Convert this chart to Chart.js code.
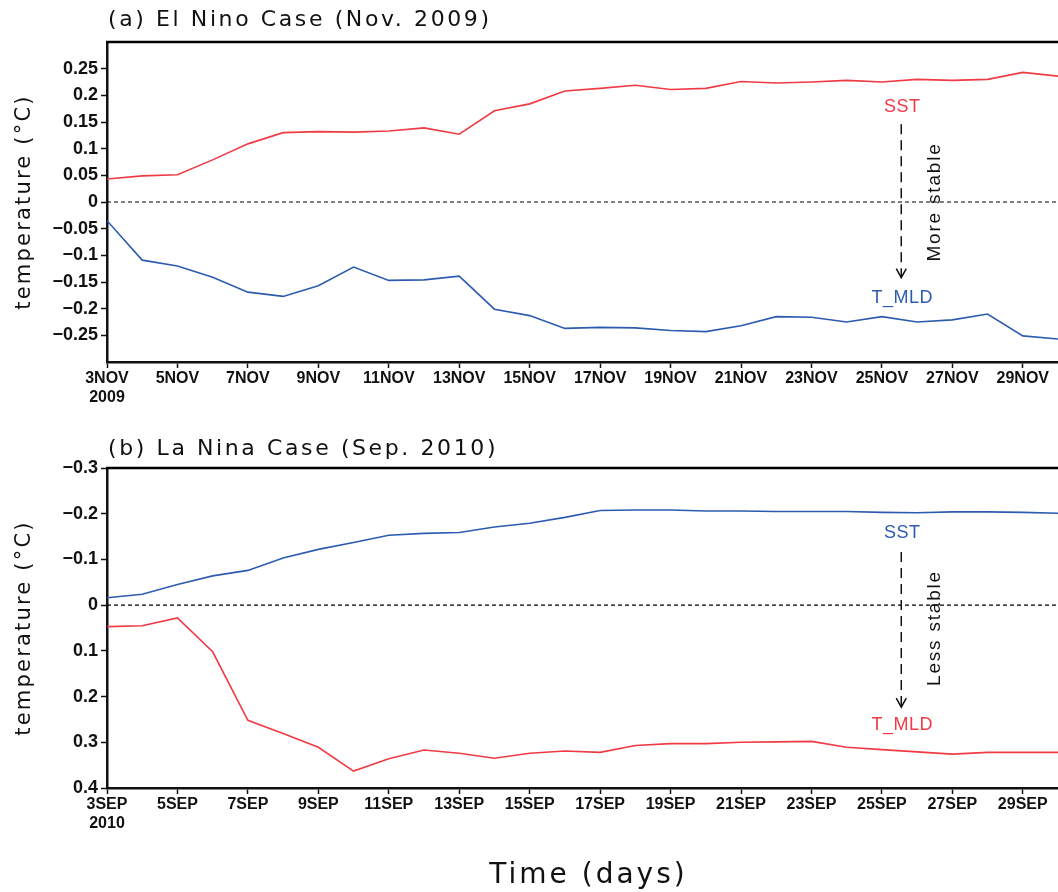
<!DOCTYPE html>
<html>
<head>
<meta charset="utf-8">
<script src="https://cdn.jsdelivr.net/npm/chart.js@4.4.1/dist/chart.umd.min.js"></script>
<style>
  html, body { margin: 0; padding: 0; background: #fff; overflow: hidden; }
  canvas { position: absolute; left: 0; }
  #top { top: 0; }
  #bottom { top: 410px; }
</style>
</head>
<body>
<canvas id="top" width="1058" height="410"></canvas>
<canvas id="bottom" width="1058" height="482"></canvas>
<script>
// days of the month, 3 .. 30
var days = [3, 4, 5, 6, 7, 8, 9, 10, 11, 12, 13, 14, 15, 16, 17, 18, 19, 20, 21, 22, 23, 24, 25, 26, 27, 28, 29, 30];
// labelled days
var tickDays = [3, 5, 7, 9, 11, 13, 15, 17, 19, 21, 23, 25, 27, 29];

// (a) El Nino, Nov. 2009
var ninoSST = [0.043, 0.049, 0.051, 0.079, 0.109, 0.130, 0.132, 0.131, 0.133, 0.139, 0.127, 0.171, 0.184,
    0.208, 0.213, 0.219, 0.211, 0.213, 0.226, 0.223, 0.225, 0.228, 0.225, 0.230, 0.228, 0.230, 0.243, 0.236];
var ninoMLD = [-0.035, -0.109, -0.120, -0.141, -0.169, -0.177, -0.157, -0.122, -0.147, -0.146, -0.139, -0.201, -0.213,
    -0.237, -0.235, -0.236, -0.241, -0.243, -0.232, -0.215, -0.216, -0.225, -0.215, -0.225, -0.221, -0.210, -0.251, -0.257];
var ninoTicks = [0.25, 0.2, 0.15, 0.1, 0.05, 0, -0.05, -0.1, -0.15, -0.2, -0.25];

// (b) La Nina, Sep. 2010
var ninaSST = [-0.016, -0.024, -0.045, -0.064, -0.076, -0.103, -0.122, -0.137, -0.153, -0.157, -0.159, -0.171, -0.179,
    -0.192, -0.207, -0.208, -0.208, -0.206, -0.206, -0.205, -0.205, -0.205, -0.203, -0.202, -0.204, -0.204, -0.203, -0.201];
var ninaMLD = [0.047, 0.045, 0.028, 0.102, 0.252, 0.281, 0.311, 0.363, 0.336, 0.317, 0.324, 0.335, 0.324,
    0.319, 0.322, 0.307, 0.303, 0.303, 0.300, 0.299, 0.298, 0.311, 0.316, 0.321, 0.326, 0.322, 0.322, 0.322];
var ninaTicks = [-0.3, -0.2, -0.1, 0, 0.1, 0.2, 0.3, 0.4];

var RED = '#f03a44';
var BLUE = '#2d5bb0';

function points(vals) {
    return days.map(function (d, i) { return { x: d, y: vals[i] }; });
}

function fmt(v) {
    var r = Math.round(v * 100) / 100;
    if (r === 0) return '0';
    return (r < 0 ? '\u2212' : '') + String(Math.abs(r));
}

// titles, zero line, arrow and labels
var notesPlugin = {
    id: 'notes',
    beforeDatasetsDraw: function (chart, args, o) {
        var ctx = chart.ctx, a = chart.chartArea;
        var y0 = chart.scales.y.getPixelForValue(0);
        ctx.save();
        ctx.strokeStyle = '#000';
        ctx.lineWidth = 1.2;
        ctx.setLineDash([4, 3]);
        ctx.beginPath();
        ctx.moveTo(a.left, y0);
        ctx.lineTo(a.right, y0);
        ctx.stroke();
        ctx.restore();
    },
    afterDraw: function (chart, args, o) {
        var ctx = chart.ctx, a = chart.chartArea;
        var sx = chart.scales.x, sy = chart.scales.y;
        ctx.save();

        // top frame line
        ctx.strokeStyle = '#000';
        ctx.lineWidth = 2.5;
        ctx.beginPath();
        ctx.moveTo(a.left - 1, a.top);
        ctx.lineTo(a.right, a.top);
        ctx.stroke();

        // panel title
        ctx.fillStyle = '#111';
        ctx.font = '22px "DejaVu Sans"';
        ctx.letterSpacing = '2.6px';
        ctx.textAlign = 'left';
        ctx.textBaseline = 'middle';
        ctx.fillText(o.title, a.left + 1, o.titleY);

        // y axis title
        ctx.save();
        ctx.translate(25, (a.top + a.bottom) / 2);
        ctx.rotate(-Math.PI / 2);
        ctx.textAlign = 'center';
        ctx.font = '21px "DejaVu Sans"';
        ctx.letterSpacing = '2.2px';
        ctx.fillText('temperature (\u00b0C)', 0, 0);
        ctx.restore();

        // arrow
        var ax = sx.getPixelForValue(o.arrowX);
        var ya = sy.getPixelForValue(o.arrowFrom), yb = sy.getPixelForValue(o.arrowTo);
        ctx.strokeStyle = '#111';
        ctx.lineWidth = 1.5;
        ctx.setLineDash([10, 6]);
        ctx.beginPath();
        ctx.moveTo(ax, ya);
        ctx.lineTo(ax, yb);
        ctx.stroke();
        ctx.setLineDash([]);
        ctx.beginPath();
        ctx.moveTo(ax - 5, yb - 9);
        ctx.lineTo(ax, yb);
        ctx.lineTo(ax + 5, yb - 9);
        ctx.stroke();

        ctx.letterSpacing = '0.5px';
        ctx.font = '18px "Liberation Sans"';
        ctx.textAlign = 'center';
        ctx.fillStyle = o.sstColor;
        ctx.fillText('SST', ax + 1, sy.getPixelForValue(o.sstY));
        ctx.fillStyle = o.mldColor;
        ctx.fillText('T_MLD', ax + 1, sy.getPixelForValue(o.mldY));

        ctx.save();
        ctx.translate(sx.getPixelForValue(o.sideX), sy.getPixelForValue(o.sideY));
        ctx.rotate(-Math.PI / 2);
        ctx.fillStyle = '#111';
        ctx.font = '19px "Liberation Sans"';
        ctx.letterSpacing = '1.8px';
        ctx.fillText(o.side, 0, 0);
        ctx.restore();

        if (o.xTitle) {
            ctx.font = '28px "DejaVu Sans"';
            ctx.letterSpacing = '3px';
            ctx.fillStyle = '#111';
            ctx.fillText(o.xTitle, (a.left + a.right) / 2 + 6, o.xTitleY);
        }
        ctx.restore();
    }
};

function makeChart(el, cfg) {
    var tickFont = { family: '"Liberation Sans", Arial, sans-serif', size: 16, weight: 'bold' };
    return new Chart(el, {
        type: 'line',
        data: {
            datasets: [
                { data: points(cfg.sst), borderColor: cfg.sstColor, borderWidth: 1.6, pointRadius: 0, tension: 0 },
                { data: points(cfg.mld), borderColor: cfg.mldColor, borderWidth: 1.6, pointRadius: 0, tension: 0 }
            ]
        },
        options: {
            responsive: false,
            devicePixelRatio: 1,
            animation: false,
            layout: { padding: { top: cfg.padTop, left: 0, right: 0, bottom: 0 } },
            plugins: {
                legend: { display: false },
                tooltip: { enabled: false },
                notes: cfg.notes
            },
            scales: {
                x: {
                    type: 'linear',
                    min: 3,
                    max: 30,
                    afterBuildTicks: function (s) {
                        s.ticks = tickDays.map(function (v) { return { value: v }; });
                    },
                    afterFit: function (s) { s.height = cfg.xHeight; },
                    ticks: {
                        autoSkip: false,
                        maxRotation: 0,
                        color: '#111',
                        padding: 1,
                        font: tickFont,
                        callback: function (v) {
                            var lbl = v + cfg.month;
                            return v === 3 ? [lbl, cfg.year] : lbl;
                        }
                    },
                    grid: { drawOnChartArea: false, drawTicks: true, tickLength: 6, tickColor: '#111', tickWidth: 1.5 },
                    border: { color: '#111', width: 2.5 }
                },
                y: {
                    min: cfg.yMin,
                    max: cfg.yMax,
                    reverse: cfg.reverse,
                    afterBuildTicks: function (s) {
                        s.ticks = cfg.yTicks.map(function (v) { return { value: v }; });
                    },
                    afterFit: function (s) { s.width = 107; },
                    ticks: {
                        autoSkip: false,
                        color: '#111',
                        padding: 3,
                        font: { family: '"Liberation Sans", Arial, sans-serif', size: 18, weight: 'bold' },
                        callback: fmt
                    },
                    grid: { drawOnChartArea: false, drawTicks: true, tickLength: 6, tickColor: '#111', tickWidth: 1.5 },
                    border: { color: '#111', width: 2.5 }
                }
            }
        },
        plugins: [notesPlugin]
    });
}

makeChart(document.getElementById('top'), {
    sst: ninoSST, mld: ninoMLD, sstColor: RED, mldColor: BLUE,
    month: 'NOV', year: '2009',
    padTop: 42, xHeight: 48,
    yMin: -0.3, yMax: 0.3, yTicks: ninoTicks, reverse: false,
    notes: {
        title: '(a) El Nino Case (Nov. 2009)', titleY: 20,
        sstColor: RED, mldColor: BLUE,
        arrowX: 25.55, arrowFrom: 0.146, arrowTo: -0.142,
        sstY: 0.178, mldY: -0.18,
        side: 'More stable', sideX: 26.5, sideY: 0
    }
});

makeChart(document.getElementById('bottom'), {
    sst: ninaSST, mld: ninaMLD, sstColor: BLUE, mldColor: RED,
    month: 'SEP', year: '2010',
    padTop: 58, xHeight: 104,
    yMin: -0.3, yMax: 0.4, yTicks: ninaTicks, reverse: true,
    notes: {
        title: '(b) La Nina Case (Sep. 2010)', titleY: 39,
        sstColor: BLUE, mldColor: RED,
        arrowX: 25.55, arrowFrom: -0.116, arrowTo: 0.223,
        sstY: -0.158, mldY: 0.263,
        side: 'Less stable', sideX: 26.5, sideY: 0.05,
        xTitle: 'Time (days)', xTitleY: 466
    }
});
</script>
</body>
</html>
